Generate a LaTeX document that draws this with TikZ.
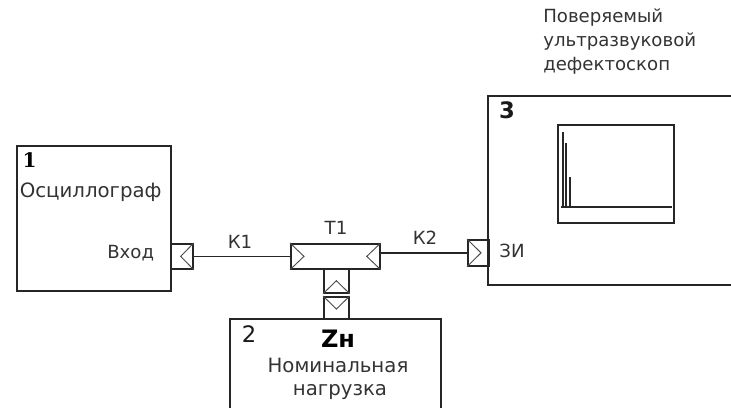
\documentclass[tikz,border=0pt]{standalone}
\usepackage{fontspec}
\setmainfont{DejaVu Sans}
\newfontfamily\numfont{DejaVu Serif}
\usetikzlibrary{positioning,calc}
\tikzset{
  box/.style={draw=black!85, line width=1.3pt, anchor=north west, inner sep=0pt},
  con/.style={draw=black!85, line width=1.3pt, anchor=north west, inner sep=0pt},
  tri/.style={draw=black!70, line width=0.7pt},
  wire/.style={draw=black!85, line width=1.3pt},
  txt/.style={font=\fontsize{13.6}{18}\selectfont, text=black!80, inner sep=0pt},
  big/.style={font=\fontsize{14.8}{17}\selectfont, text=black!80, inner sep=0pt},
  num/.style={font=\fontsize{17}{20}\selectfont, text=black!90, inner sep=0pt},
}
\begin{document}
\begin{tikzpicture}[x=0.75pt,y=-0.75pt]
\useasboundingbox (0,0) rectangle (731,407);
\clip (0,0) rectangle (731,407);
% blocks
\node[box, minimum width=115.5pt, minimum height=109pt] (osc) at (16,145) {};
\node[box, minimum width=158.5pt, minimum height=80pt] (load) at (229,318) {};
\node[box, minimum width=186pt, minimum height=141.75pt] (def) at (487,95) {};
\node[box, minimum width=87pt, minimum height=73.5pt] (scr) at (557,124) {};
% connectors
\node[con, minimum width=16.5pt, minimum height=18.75pt] (vhod) at (170,243) {};
\node[con, minimum width=66.75pt, minimum height=18.75pt] (t1) at (290,243) {};
\node[con, minimum width=18.75pt, minimum height=18pt] (stema) at (323,268) {};
\node[con, minimum width=18.75pt, minimum height=16.5pt] (stemb) at (323,296) {};
\node[con, minimum width=15.75pt, minimum height=19.5pt] (zi) at (467,239) {};
% triangles
\draw[tri] (vhod.north east) -- ($(vhod.east)+(-13,0)$) -- (vhod.south east);
\draw[tri] (t1.north west) -- ($(t1.west)+(14,0)$) -- (t1.south west);
\draw[tri] (t1.north east) -- ($(t1.east)+(-14,0)$) -- (t1.south east);
\draw[tri] (stema.south west) -- ($(stema.south)+(0,-13)$) -- (stema.south east);
\draw[tri] (stemb.north west) -- ($(stemb.north)+(0,13)$) -- (stemb.north east);
\draw[tri] (zi.north west) -- ($(zi.west)+(14,0)$) -- (zi.south west);
% wires
\draw[wire] (vhod.east) -- (t1.west);
\draw[wire] (zi.west -| t1.east) -- (zi.west);
% screen
\coordinate (sb) at (561,207);
\draw[wire] (sb) -- (672,207);
\draw[wire] (563,207) -- (563,132);
\draw[wire] (566,207) -- (566,143);
\draw[wire] (570,207) -- (570,177);
% labels
\node[font=\numfont\bfseries\fontsize{15}{17}\selectfont, inner sep=0pt] (n1) at (29.5,160) {1};
\node[big, anchor=west] (oscl) at (19.5,192) {Осциллограф};
\node[txt, anchor=west] (vh) at (107,253) {Вход};
\node[txt] (k1) at (240,242) {К1};
\node[txt] (t1l) at (336,228) {Т1};
\node[txt] (k2) at (425,238) {К2};
\node[num] (n2) at (249,334) {2};
\node[font=\fontsize{18}{20}\selectfont\bfseries, inner sep=0pt] (zn) at (338,339) {Zн};
\node[big] (nom) at (338,365) {Номинальная};
\node[big] (nag) at (340,392) {нагрузка};
\node[num, font=\fontsize{17}{20}\selectfont\bfseries] (n3) at (507,110) {3};
\node[txt] (zil) at (512,251) {ЗИ};
\node[txt, anchor=north west, align=left] (devl) at (543,8) {Поверяемый\\ультразвуковой\\дефектоскоп};
\end{tikzpicture}
\end{document}
